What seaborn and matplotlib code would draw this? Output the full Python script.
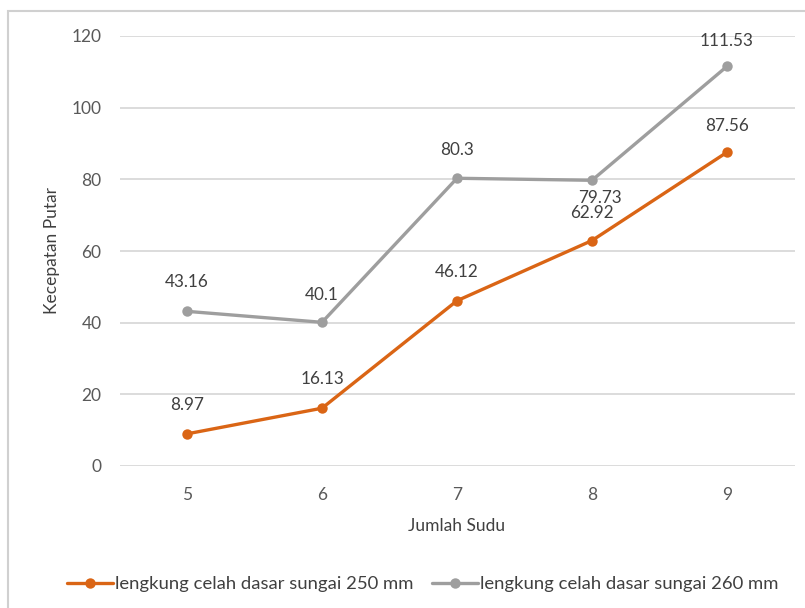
import matplotlib
matplotlib.use("Agg")
import matplotlib.pyplot as plt
import seaborn as sns
import pandas as pd
from matplotlib.patches import Rectangle

# Data
jumlah_sudu = [5, 6, 7, 8, 9]
celah_250 = [8.97, 16.13, 46.12, 62.92, 87.56]
celah_260 = [43.16, 40.1, 80.3, 79.73, 111.53]
series_names = ["lengkung celah dasar sungai 250 mm", "lengkung celah dasar sungai 260 mm"]
y_ticks = [0, 20, 40, 60, 80, 100, 120]

df = pd.DataFrame({
    "Jumlah Sudu": jumlah_sudu * 2,
    "Kecepatan Putar": celah_250 + celah_260,
    "Seri": [series_names[0]] * len(jumlah_sudu) + [series_names[1]] * len(jumlah_sudu),
})

sns.set_theme(style="white")
plt.rcParams["font.family"] = ["Lato", "DejaVu Sans"]

colors = {series_names[0]: "#DA6515", series_names[1]: "#9E9E9E"}
text_dark = "#404040"

fig = plt.figure(figsize=(8.05, 6.08), dpi=100)
fig.patch.set_facecolor("white")

# light frame around the chart
fig.patches.append(Rectangle((8 / 805, -0.1), 1.2, 1 - 11 / 608 + 0.1,
                             transform=fig.transFigure, fill=False,
                             edgecolor="#D0D0D0", linewidth=1.5))

ax = fig.add_axes([119.5 / 805, (608 - 466) / 608, 675 / 805, 430 / 608])

sns.lineplot(data=df, x="Jumlah Sudu", y="Kecepatan Putar", hue="Seri",
             palette=colors, marker="o", markersize=7.5, linewidth=2.4,
             markeredgewidth=0, ax=ax, legend=False, zorder=3)

ax.set_xlim(4.5, 9.5)
ax.set_ylim(0, 120)
ax.set_yticks(y_ticks)
ax.set_xticks(jumlah_sudu)
ax.yaxis.grid(True, color="#D9D9D9", linewidth=1.3)
ax.set_axisbelow(True)
for s in ax.spines.values():
    s.set_visible(False)
ax.tick_params(axis="both", length=0, labelsize=12.5, colors="#595959")
ax.tick_params(axis="y", pad=13)
ax.tick_params(axis="x", pad=15)
ax.set_xlabel("Jumlah Sudu", fontsize=12.5, color=text_dark, labelpad=11)
ax.set_ylabel("Kecepatan Putar", fontsize=12.5, color=text_dark, labelpad=8)

# data labels
offsets_250 = [(0, 21), (0, 21), (0, 21), (0, 20), (0, 19)]
offsets_260 = [(0, 21), (0, 20), (0, 20), (6, -13), (0, 18)]
for x, y, off in zip(jumlah_sudu, celah_250, offsets_250):
    ax.annotate(f"{y:g}", (x, y), xytext=off, textcoords="offset points",
                ha="center", va="center", fontsize=12.3, color=text_dark)
for x, y, off in zip(jumlah_sudu, celah_260, offsets_260):
    ax.annotate(f"{y:g}", (x, y), xytext=off, textcoords="offset points",
                ha="center", va="center", fontsize=12.3, color=text_dark)

handles = [plt.Line2D([], [], color=colors[n], marker="o", markersize=7.5,
                      linewidth=2.4, markeredgewidth=0) for n in series_names]
fig.legend(handles, series_names, loc="center", bbox_to_anchor=(0.525, 1 - 584 / 608),
           ncol=2, frameon=False, fontsize=13.3, handlelength=2.5, handletextpad=0.1,
           columnspacing=1.0, labelcolor=text_dark)

fig.savefig("out.png", dpi=100, facecolor="white")
